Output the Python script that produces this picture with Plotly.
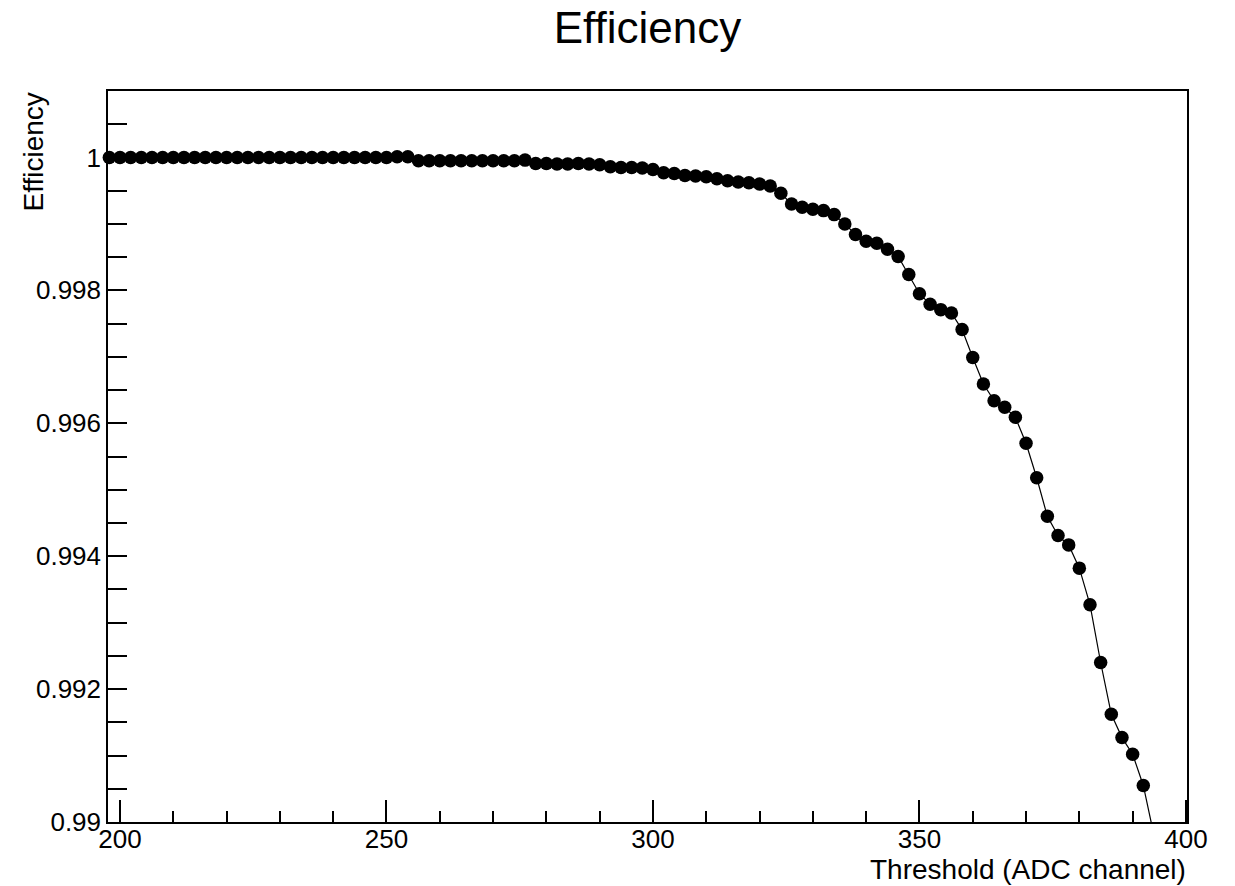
import plotly.graph_objects as go

threshold = [198, 200, 202, 204, 206, 208, 210, 212, 214, 216, 218, 220, 222, 224, 226, 228,
             230, 232, 234, 236, 238, 240, 242, 244, 246, 248, 250, 252, 254, 256, 258, 260,
             262, 264, 266, 268, 270, 272, 274, 276, 278, 280, 282, 284, 286, 288, 290, 292,
             294, 296, 298, 300, 302, 304, 306, 308, 310, 312, 314, 316, 318, 320, 322, 324,
             326, 328, 330, 332, 334, 336, 338, 340, 342, 344, 346, 348, 350, 352, 354, 356,
             358, 360, 362, 364, 366, 368, 370, 372, 374, 376, 378, 380, 382, 384, 386, 388,
             390, 392, 394]

efficiency = [1.0, 1.0, 1.0, 1.0, 1.0, 1.0, 1.0, 1.0, 1.0, 1.0, 1.0, 1.0, 1.0, 1.0, 1.0, 1.0,
              1.0, 1.0, 1.0, 1.0, 1.0, 1.0, 1.0, 1.0, 1.0, 1.0, 1.0, 1.00001, 1.00001, 0.99995, 0.99995, 0.99995,
              0.99995, 0.99995, 0.99995, 0.99995, 0.99995, 0.99995, 0.99995, 0.99996, 0.99991, 0.99991, 0.9999, 0.9999, 0.99991, 0.9999, 0.99989, 0.99986,
              0.99985, 0.99985, 0.99984, 0.99982, 0.99977, 0.99976, 0.99973, 0.99972, 0.99971, 0.99968, 0.99965, 0.99963, 0.99962, 0.9996, 0.99957, 0.99946,
              0.9993, 0.99925, 0.99922, 0.9992, 0.99914, 0.999, 0.99884, 0.99874, 0.99871, 0.99862, 0.99851, 0.99824, 0.99795, 0.99779, 0.99771, 0.99766,
              0.99741, 0.99699, 0.99659, 0.99634, 0.99624, 0.99609, 0.9957, 0.99518, 0.9946, 0.99431, 0.99417, 0.99382, 0.99327, 0.9924, 0.99162, 0.99127,
              0.99102, 0.99055, 0.9898]

x_tick_vals = [200, 250, 300, 350, 400]
x_tick_text = ["200", "250", "300", "350", "400"]
y_tick_vals = [0.99, 0.992, 0.994, 0.996, 0.998, 1.0]
y_tick_text = ["0.99", "0.992", "0.994", "0.996", "0.998", "1"]

x_range = [197.75, 400.2]
y_range = [0.99, 1.001]

FONT = "Liberation Sans, Arial, Helvetica, sans-serif"

vis_x = [x for x, y in zip(threshold, efficiency) if y_range[0] <= y <= y_range[1]]
vis_y = [y for y in efficiency if y_range[0] <= y <= y_range[1]]

fig = go.Figure()
fig.add_trace(go.Scatter(x=threshold, y=efficiency, mode="lines",
                         line=dict(color="black", width=1.2), showlegend=False,
                         hoverinfo="skip"))
fig.add_trace(go.Scatter(x=vis_x, y=vis_y, mode="markers",
                         marker=dict(symbol="circle", size=13.5, color="black",
                                     line=dict(width=0)),
                         cliponaxis=False, showlegend=False))

axis_common = dict(showline=True, linecolor="black", linewidth=1.5, mirror=True,
                   ticks="inside", tickcolor="black", tickwidth=1.5,
                   showgrid=False, zeroline=False,
                   tickfont=dict(family=FONT, size=26, color="black"))

fig.update_layout(
    width=1235, height=886,
    margin=dict(l=108, r=48, t=91, b=64),
    paper_bgcolor="white", plot_bgcolor="white",
    font=dict(family=FONT, color="black"),
    title=dict(text="Efficiency", x=0.5, xref="paper", xanchor="center",
               y=1 - 28 / 886, yref="container", yanchor="middle",
               font=dict(family=FONT, size=44, color="black")),
    xaxis=dict(range=x_range, tickmode="array", tickvals=x_tick_vals, ticktext=x_tick_text,
               ticklen=22, ticklabelstandoff=-7,
               minor=dict(ticks="inside", dtick=10, tick0=200, ticklen=11,
                          tickcolor="black", tickwidth=1.5, showgrid=False),
               **axis_common),
    yaxis=dict(range=y_range, tickmode="array", tickvals=y_tick_vals, ticktext=y_tick_text,
               ticklen=19,
               minor=dict(ticks="inside", dtick=0.0005, tick0=0.99, ticklen=19,
                          tickcolor="black", tickwidth=1.5, showgrid=False),
               **axis_common),
    annotations=[
        dict(text="Threshold (ADC channel)", xref="paper", yref="paper",
             x=1.0, y=(822 - 869) / 731, xanchor="right", yanchor="middle",
             borderpad=0, showarrow=False, font=dict(family=FONT, size=28, color="black")),
        dict(text="Efficiency", xref="paper", yref="paper", textangle=-90,
             x=(33 - 108) / 1079, y=1.0, xanchor="center", yanchor="top",
             showarrow=False, font=dict(family=FONT, size=28, color="black")),
    ],
)

fig.write_html("out.html")
